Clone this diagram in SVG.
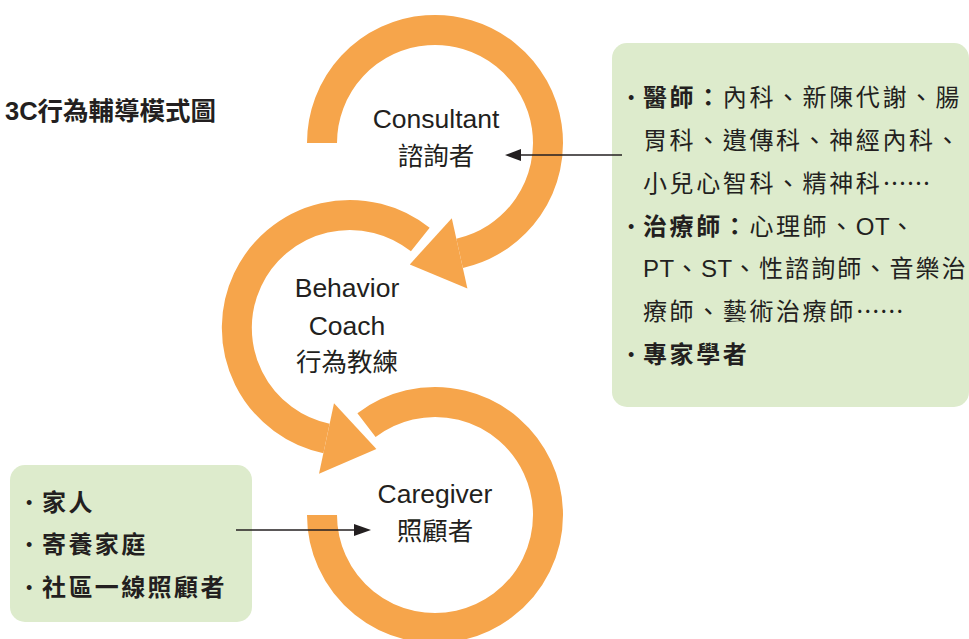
<svg xmlns="http://www.w3.org/2000/svg" width="969" height="639" viewBox="0 0 969 639">
<style>
.ring{fill:none;stroke:#F6A54B;stroke-width:30;stroke-linecap:butt}
.head{fill:#F6A54B}
.box{fill:#DDEBCC}
.lbl{font-family:"Liberation Sans","Noto Sans CJK TC",sans-serif;font-size:26.5px;fill:#231F20;text-anchor:middle}
.cjk{font-family:"Liberation Sans","Noto Sans CJK TC",sans-serif;font-size:25.5px;fill:#231F20;text-anchor:middle}
.list{font-family:"Liberation Sans","Noto Sans CJK TC",sans-serif;font-size:24px;fill:#231F20;letter-spacing:2.6px}
.tight{letter-spacing:2.1px}
.lat{letter-spacing:0.6px}
.ell{font-family:"Noto Sans CJK TC",sans-serif;letter-spacing:0}
.blist{font-family:"Liberation Sans","Noto Sans CJK TC",sans-serif;font-size:24px;font-weight:bold;fill:#231F20;letter-spacing:2.4px}
.b{font-weight:bold}
.dot{font-family:"Liberation Sans",sans-serif;font-size:18px;fill:#231F20}
.conn{stroke:#231F20;stroke-width:1.4;fill:none}
.tip{fill:#231F20}
</style>

<g id="title">
<text x="5" y="120" font-family="Liberation Sans,'Noto Sans CJK TC',sans-serif" font-size="25.5" font-weight="bold" fill="#231F20">3C行為輔導模式圖</text>
</g>

<g id="consultant">
<path class="ring" d="M322,143 A113,113 0 1 1 459.6,253.3"/>
<polygon class="head" points="451.8,218.2 467.4,288.4 409.8,264.4"/>
<text class="lbl" x="436" y="128">Consultant</text>
<text class="cjk" x="436" y="165">諮詢者</text>
</g>

<g id="coach">
<path class="ring" d="M420.3,239.6 A113,113 0 1 0 326.5,438.5"/>
<polygon class="head" points="334,403.3 319,473.7 376.4,449.1"/>
<text class="lbl" x="347" y="297">Behavior</text>
<text class="lbl" x="347" y="335">Coach</text>
<text class="cjk" x="347" y="371">行為教練</text>
</g>

<g id="caregiver">
<path class="ring" d="M366.5,425.1 A113,113 0 1 1 322,515"/>
<text class="lbl" x="435" y="503">Caregiver</text>
<text class="cjk" x="435" y="540">照顧者</text>
</g>

<g id="professionals">
<rect class="box" x="612" y="43" width="357" height="364" rx="15"/>
<text class="dot" x="628" y="104">•</text>
<text class="list" x="643" y="106"><tspan class="b">醫師：</tspan>內科、新陳代謝、腸</text>
<text class="list" x="643" y="149">胃科、遺傳科、神經內科、</text>
<text class="list" x="643" y="192">小兒心智科、精神科<tspan class="ell">……</tspan></text>
<text class="dot" x="628" y="233">•</text>
<text class="list" x="643" y="235"><tspan class="b">治療師：</tspan>心理師、<tspan class="lat">OT</tspan>、</text>
<text class="list tight" x="643" y="277"><tspan class="lat">PT</tspan>、<tspan class="lat">ST</tspan>、性諮詢師、音樂治</text>
<text class="list" x="643" y="320">療師、藝術治療師<tspan class="ell">……</tspan></text>
<text class="dot" x="628" y="361">•</text>
<text class="list b" x="643" y="363">專家學者</text>
</g>

<g id="caregivers-list">
<rect class="box" x="10" y="465" width="242" height="157" rx="15"/>
<text class="dot" x="26" y="509">•</text>
<text class="blist" x="42" y="511">家人</text>
<text class="dot" x="26" y="551">•</text>
<text class="blist" x="42" y="553">寄養家庭</text>
<text class="dot" x="26" y="594">•</text>
<text class="blist" x="42" y="596">社區一線照顧者</text>
</g>

<g id="connectors">
<line class="conn" x1="622" y1="155" x2="518" y2="155"/>
<polygon class="tip" points="505,155 521,149 521,161"/>
<line class="conn" x1="236" y1="530" x2="357" y2="530"/>
<polygon class="tip" points="371,530 354,524 354,536"/>
</g>
</svg>
